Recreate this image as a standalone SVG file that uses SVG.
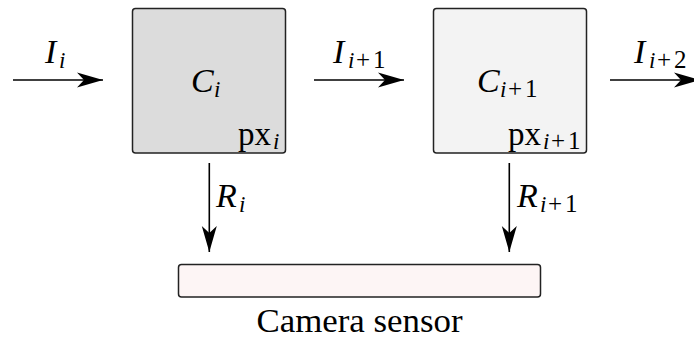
<svg xmlns="http://www.w3.org/2000/svg" width="694" height="339" viewBox="0 0 694 339">
<style>
.box{stroke:#222;stroke-width:1.5}
.ln{stroke:#000;stroke-width:1.6;fill:none}
text{font-family:"Liberation Serif",serif;fill:#000}
.m{font-style:italic;font-size:34px}
.si{font-size:23px;font-style:italic}
.su{font-size:25px;font-style:normal}
.px{font-size:33px}
</style>
<defs>
<marker id="ah" markerUnits="userSpaceOnUse" viewBox="-27 -9 28 18" markerWidth="28" markerHeight="18" refX="0" refY="0" orient="auto">
<path d="M0,0 L-26,-7.5 L-19,0 L-26,7.5 Z" fill="#000"/>
</marker>
</defs>
<rect width="694" height="339" fill="#fff"/>
<g id="C_i">
<rect class="box" x="132.5" y="8.5" width="153" height="144.5" rx="3" fill="#dcdcdc"/>
<text class="m" x="191" y="92">C<tspan class="si" x="214" y="97">i</tspan></text>
<text class="px" x="238" y="145">px<tspan class="si" x="273" y="149">i</tspan></text>
</g>
<g id="C_i1">
<rect class="box" x="433.5" y="8.5" width="153" height="144.5" rx="3" fill="#f3f3f3"/>
<text class="m" x="477" y="92">C<tspan class="si" x="500" y="97">i</tspan><tspan class="su" x="508" y="97">+</tspan><tspan class="su" x="525" y="97">1</tspan></text>
<text class="px" x="508" y="145">px<tspan class="si" x="543" y="149">i</tspan><tspan class="su" x="551" y="149">+</tspan><tspan class="su" x="568" y="149">1</tspan></text>
</g>
<g id="sensor">
<rect class="box" x="178.5" y="264.5" width="362" height="32.5" rx="3" fill="#fdf5f5"/>
<text x="359.5" y="332" font-size="33" text-anchor="middle" textLength="206" lengthAdjust="spacingAndGlyphs">Camera sensor</text>
</g>
<g id="connectors">
<line class="ln" x1="13" y1="80" x2="103" y2="80" marker-end="url(#ah)"/>
<line class="ln" x1="314" y1="80" x2="404" y2="80" marker-end="url(#ah)"/>
<line class="ln" x1="610" y1="80" x2="700" y2="80" marker-end="url(#ah)"/>
<line class="ln" x1="209.3" y1="163" x2="209.3" y2="252" marker-end="url(#ah)"/>
<line class="ln" x1="509.3" y1="163" x2="509.3" y2="252" marker-end="url(#ah)"/>
<text class="m" x="45" y="63">I<tspan class="si" x="59" y="68">i</tspan></text>
<text class="m" x="333" y="63">I<tspan class="si" x="348" y="68">i</tspan><tspan class="su" x="356" y="68">+</tspan><tspan class="su" x="373" y="68">1</tspan></text>
<text class="m" x="634" y="63">I<tspan class="si" x="649" y="68">i</tspan><tspan class="su" x="657" y="68">+</tspan><tspan class="su" x="674" y="68">2</tspan></text>
<text class="m" x="216" y="207">R<tspan class="si" x="239" y="212">i</tspan></text>
<text class="m" x="517" y="207">R<tspan class="si" x="540" y="212">i</tspan><tspan class="su" x="548" y="212">+</tspan><tspan class="su" x="565" y="212">1</tspan></text>
</g>
</svg>
